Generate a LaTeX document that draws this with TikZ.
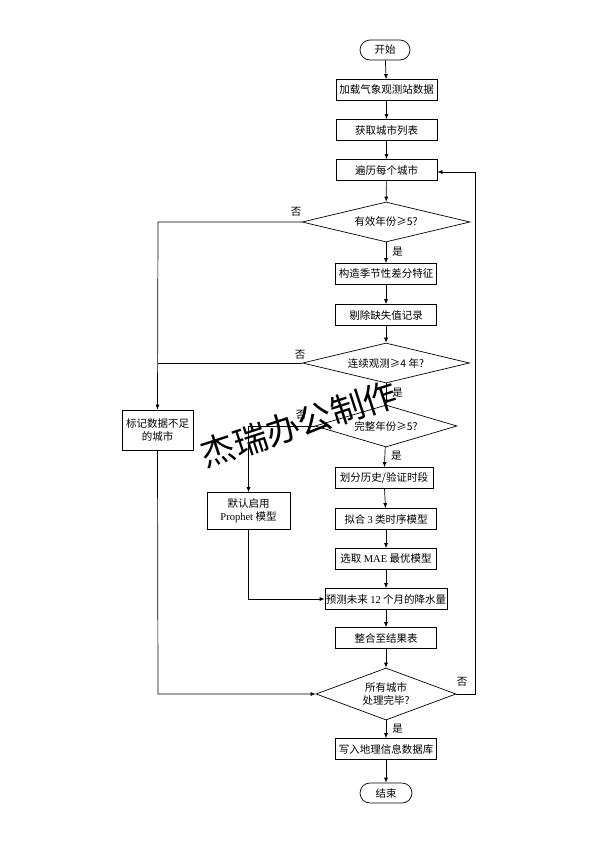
\documentclass[tikz,border=0pt]{standalone}
\usepackage{fontspec}
\setmainfont{Liberation Serif}
\newfontfamily\cjk{Noto Sans CJK SC}
\usetikzlibrary{shapes.geometric,arrows.meta}
\begin{document}
\begin{tikzpicture}[x=1pt,y=-1pt,
  every node/.style={font=\fontsize{10.5}{13}\selectfont\cjk},
  procbox/.style={draw,rectangle,line width=0.7pt,minimum width=101pt,minimum height=21pt,inner sep=1pt,align=center},
  termbox/.style={draw,rectangle,rounded corners=10pt,line width=0.7pt,minimum width=50pt,minimum height=20pt,inner sep=1pt},
  decbox/.style={draw,diamond,line width=0.7pt,inner sep=0pt,align=center},
  flow/.style={line width=0.7pt,-{Latex[length=5pt,width=4pt]}},
  plainline/.style={line width=0.7pt},
  lbl/.style={inner sep=1pt},
  yeslbl/.style={inner sep=1pt,right,xshift=5pt}]
\useasboundingbox[fill=white] (0,0) rectangle (594,841);

\node[termbox] (start) at (385,50) {开始};
\node[procbox] (load) at (386.5,90) {加载气象观测站数据};
\node[procbox] (list) at (386.5,130) {获取城市列表};
\node[procbox] (iter) at (386.5,170) {遍历每个城市};
\node[decbox,shape aspect=4.2,minimum width=168pt,minimum height=40pt] (d1) at (386,222) {有效年份≥5?};
\node[procbox] (feat) at (386,274) {构造季节性差分特征};
\node[procbox] (drop) at (386,315) {剔除缺失值记录};
\node[decbox,shape aspect=4.2,minimum width=167pt,minimum height=40pt] (d2) at (386,363) {连续观测≥4{\rmfamily\ }年?};
\node[procbox,minimum width=71pt,minimum height=40pt] (mark) at (157.5,430) {标记数据不足\\的城市};
\node[decbox,shape aspect=3.4,minimum width=142pt,minimum height=42pt] (d3) at (386,426) {完整年份≥5?};
\node[procbox,minimum width=98pt] (split) at (384,478) {划分历史/验证时段};
\node[procbox,minimum width=83pt,minimum height=37pt] (prophet) at (248.5,511) {默认启用\\{\rmfamily Prophet} 模型};
\node[procbox] (fit) at (386,519) {拟合 {\rmfamily 3} 类时序模型};
\node[procbox] (mae) at (386,559) {选取 {\rmfamily MAE} 最优模型};
\node[procbox,minimum width=122pt,inner sep=0.5pt] (pred) at (386,599) {预测未来 {\rmfamily 12} 个月的降水量};
\node[procbox] (merge) at (386,638) {整合至结果表};
\node[decbox,shape aspect=2.7,minimum width=140pt,minimum height=52pt] (d5) at (386,694) {所有城市\\处理完毕?};
\node[procbox] (write) at (386,749) {写入地理信息数据库};
\node[termbox,minimum width=52pt] (end) at (386,793) {结束};

\coordinate (c1) at (158,222);
\coordinate (c2) at (158,363);
\coordinate (c3) at (158,694);
\coordinate (c4) at (248.5,426);
\coordinate (c5) at (248.5,599);
\coordinate (c6) at (475,694);
\coordinate (c7) at (475,172);

\draw[flow] (start) -- (load);
\draw[flow] (load) -- (list);
\draw[flow] (list) -- (iter);
\draw[flow] (iter) -- (d1);
\draw[flow] (d1) -- node[yeslbl,pos=0.45] {是} (feat);
\draw[flow] (feat) -- (drop);
\draw[flow] (drop) -- (d2);
\draw[flow] (d2) -- node[yeslbl,pos=0.45] {是} (d3);
\draw[flow] (d3) -- node[yeslbl,pos=0.45] {是} (split);
\draw[flow] (split) -- (fit);
\draw[flow] (fit) -- (mae);
\draw[flow] (mae) -- (pred);
\draw[flow] (pred) -- (merge);
\draw[flow] (merge) -- (d5);
\draw[flow] (d5) -- node[yeslbl,pos=0.45] {是} (write);
\draw[flow] (write) -- (end);

\draw[flow] (d1.west) -- (c1) -- (mark.north);
\node[lbl] (no1) at (296,212) {否};
\draw[plainline] (d2.west) -- (c2);
\node[lbl] (no2) at (300,355) {否};
\draw[flow] (mark.south) -- (c3) -- (d5.west);
\draw[flow] (d3.west) -- (c4) -- (prophet.north);
\node[lbl] (no3) at (301,415) {否};
\draw[flow] (prophet.south) -- (c5) -- (pred.west);
\draw[flow] (d5.east) -- (c6) -- (c7) -- (iter.east |- c7);
\node[lbl] (no5) at (462,682) {否};

\node[font=\fontsize{34}{40}\selectfont\cjk,rotate=18,inner sep=0pt] (wm) at (299,424) {杰瑞办公制作};
\end{tikzpicture}
\end{document}
